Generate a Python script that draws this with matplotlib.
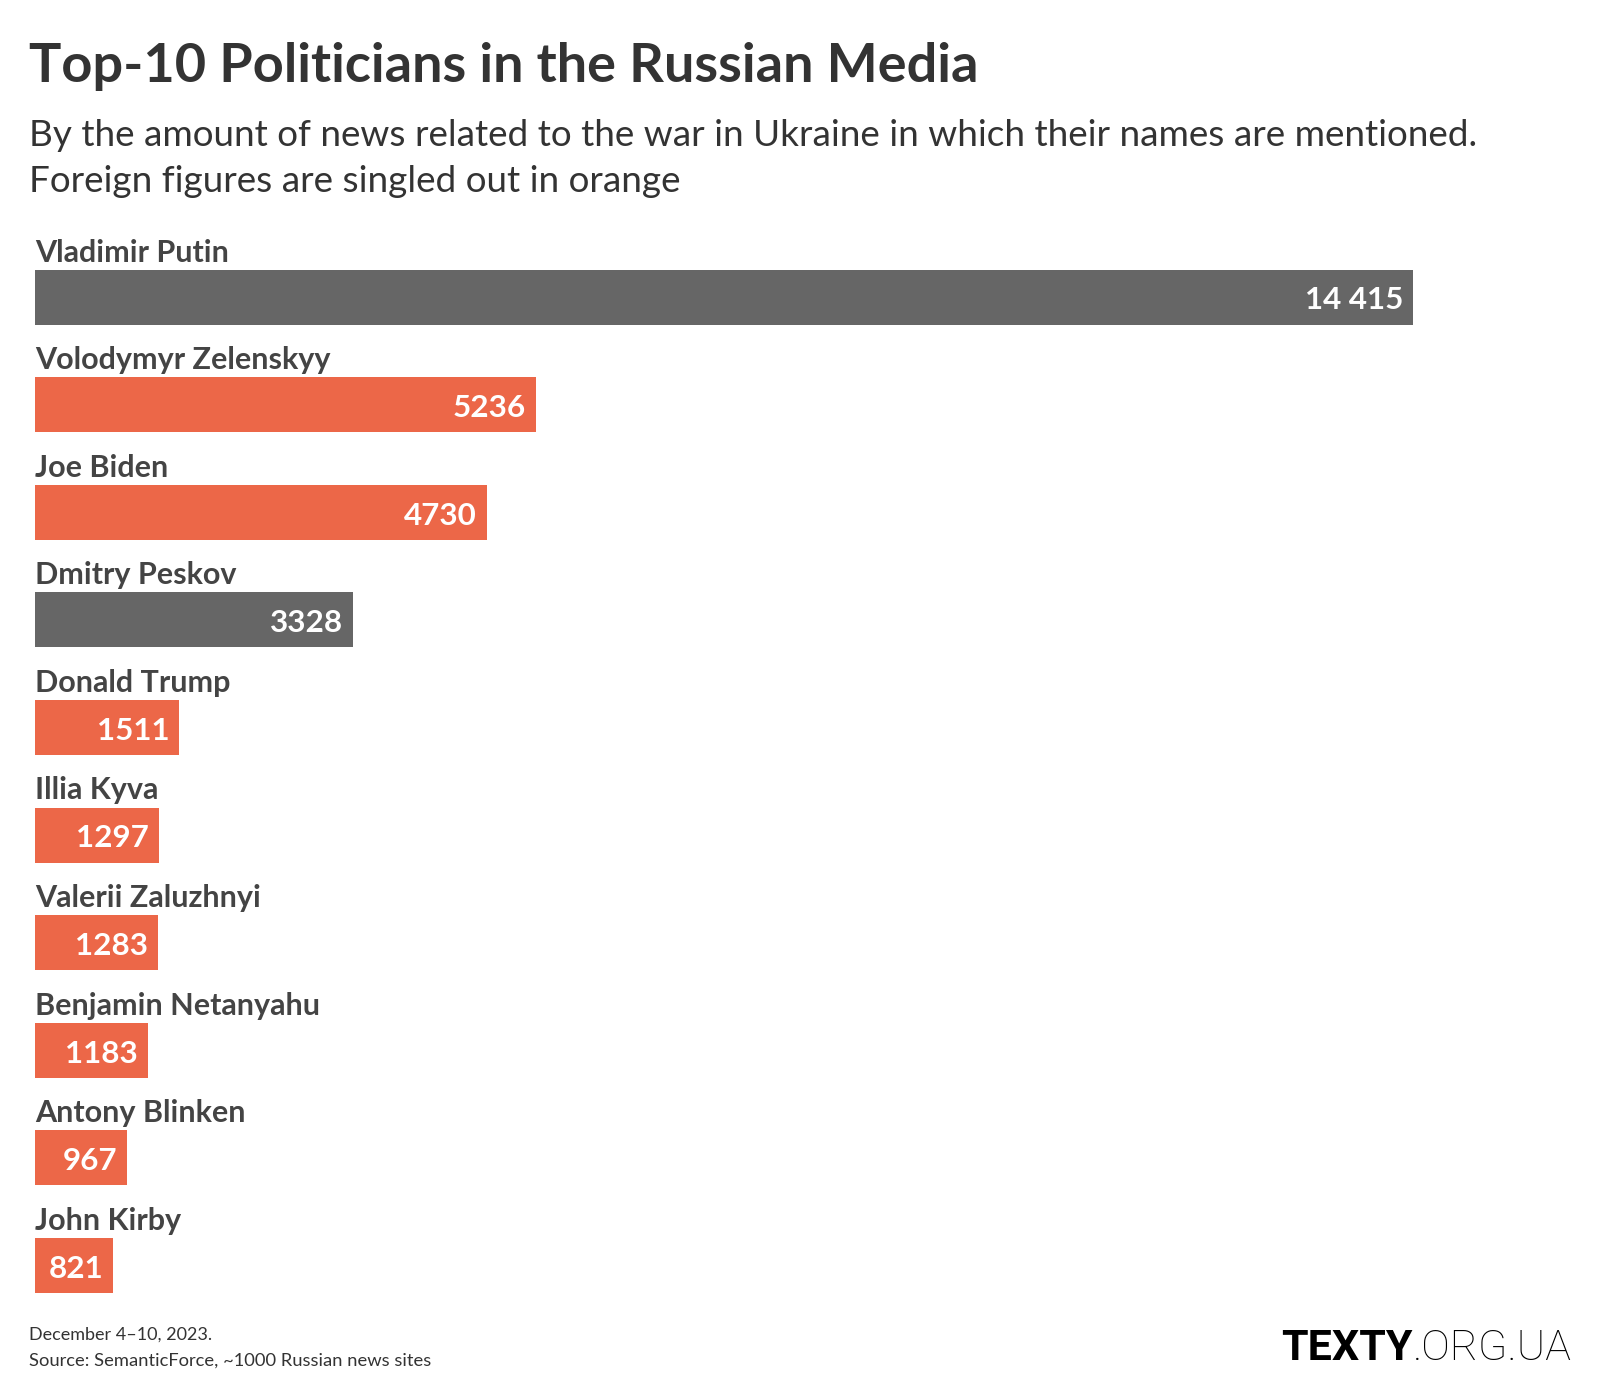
import matplotlib
matplotlib.use("Agg")
import matplotlib.pyplot as plt

plt.rcParams['font.family'] = ['Lato', 'DejaVu Sans']

# Data
names = ["Vladimir Putin", "Volodymyr Zelenskyy", "Joe Biden", "Dmitry Peskov",
         "Donald Trump", "Illia Kyva", "Valerii Zaluzhnyi", "Benjamin Netanyahu",
         "Antony Blinken", "John Kirby"]
mentions = [14415, 5236, 4730, 3328, 1511, 1297, 1283, 1183, 967, 821]
foreign = [False, True, True, False, True, True, True, True, True, True]

title = "Top-10 Politicians in the Russian Media"
subtitle = ["By the amount of news related to the war in Ukraine in which their names are mentioned.",
            "Foreign figures are singled out in orange"]
footer = ["December 4\u201310, 2023.", "Source: SemanticForce, ~1000 Russian news sites"]

GREY = "#666666"
ORANGE = "#ec6748"
TEXT = "#333333"
W, H = 1600, 1400


def fx(px):
    return px / W


def fy(py):
    return 1 - py / H


def fmt(v):
    return f"{v:,}".replace(",", " ") if v >= 10000 else str(v)


fig = plt.figure(figsize=(16, 14), dpi=100)

# axes: x=0 at 35px, max value at 1413px; rows 107.6px apart, first centre at 297px
row = 107.6
top = 297 - row / 2
bottom = top + row * len(names)
ax = fig.add_axes([fx(35), fy(bottom), (1413 - 35) / W, (bottom - top) / H])
ax.set_xlim(0, max(mentions))
ax.set_ylim(len(names) - 0.5, -0.5)
ax.axis("off")

bar_h = 55 / row
ys = list(range(len(names)))
colors = [ORANGE if f else GREY for f in foreign]
ax.barh(ys, mentions, height=bar_h, color=colors, left=0)

pad = 10 / 1378 * max(mentions)
for y, name, v in zip(ys, names, mentions):
    ax.text(0, y - bar_h / 2 - 8 / row, name, ha="left", va="baseline",
            fontsize=22, fontweight="bold", color="#444444")
    ax.text(v - pad, y + 12.4 / row, fmt(v), ha="right", va="baseline",
            fontsize=22.6, fontweight="bold", color="white")

# headings
fig.text(fx(29), fy(81.6), title, fontsize=39, fontweight="bold", color=TEXT,
         ha="left", va="baseline")
fig.text(fx(29), fy(146), subtitle[0], fontsize=26.6, color=TEXT, ha="left", va="baseline")
fig.text(fx(29), fy(192), subtitle[1], fontsize=26.6, color=TEXT, ha="left", va="baseline")

fig.text(fx(29), fy(1340), footer[0], fontsize=13, color=TEXT, ha="left", va="baseline")
fig.text(fx(29), fy(1366), footer[1], fontsize=13.2, color=TEXT, ha="left", va="baseline")

# logo
org = fig.text(fx(1572), fy(1360), ".ORG.UA", fontsize=31, color="black",
               family="Roboto", fontweight="light", ha="right", va="baseline")
fig.canvas.draw()
bb = org.get_window_extent(fig.canvas.get_renderer())
fig.text(bb.x0 / W, fy(1360), "TEXTY", fontsize=31, color="black",
         family="Roboto", fontweight="bold", ha="right", va="baseline")

fig.savefig("out.png", dpi=100, facecolor="white")
